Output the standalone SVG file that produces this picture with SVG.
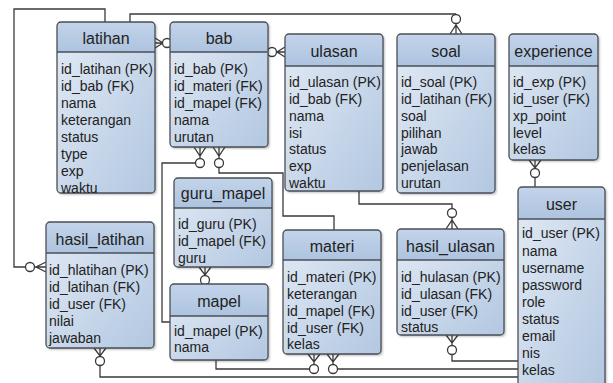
<svg xmlns="http://www.w3.org/2000/svg" width="613" height="383" viewBox="0 0 613 383">
<defs>
<linearGradient id="bodyGrad" x1="0" y1="0" x2="1" y2="1">
<stop offset="0" stop-color="#e3ebf5"/>
<stop offset="1" stop-color="#b2c7e1"/>
</linearGradient>
<linearGradient id="headGrad" x1="0" y1="0" x2="0" y2="1">
<stop offset="0" stop-color="#c3d4ea"/>
<stop offset="1" stop-color="#adc3df"/>
</linearGradient>
<filter id="sh" x="-10%" y="-10%" width="130%" height="130%">
<feDropShadow dx="1.5" dy="1.5" stdDeviation="1.2" flood-color="#000" flood-opacity="0.3"/>
</filter>
</defs>
<style>
.body{fill:url(#bodyGrad);filter:url(#sh)}
.head{fill:url(#headGrad)}
.frame{fill:none;stroke:#4a4f57;stroke-width:1.3}
.sep{stroke:#4a4f57;stroke-width:1.3}
.t{font-family:"Liberation Sans",Arial,sans-serif;font-size:16px;fill:#222;text-anchor:middle}
.r{font-family:"Liberation Sans",Arial,sans-serif;font-size:14px;fill:#222}
.c{fill:none;stroke:#3a3a3a;stroke-width:1.3}
.o{fill:#fff;stroke:#3a3a3a;stroke-width:1.3}
</style>
<rect width="613" height="383" fill="#fff"/>

<g id="connectors">
<!-- latihan - hasil_latihan -->
<path class="c" d="M105,22 V9 H14 V267 H25.5"/>
<circle class="o" cx="30" cy="267" r="4.5"/>
<path class="c" d="M34.5,267 H46 M46,262 L36,267 L46,272"/>
<!-- latihan - soal -->
<path class="c" d="M130,22 V14 H456"/>
<circle class="o" cx="456" cy="19" r="4.5"/>
<path class="c" d="M456,23.5 V34 M450,34 L456,25 L462,34"/>
<!-- latihan - bab -->
<path class="c" d="M155,43 H162.5 M155,38 L163,43 L155,48"/>
<circle class="o" cx="167" cy="43" r="4.5"/>
<!-- bab - ulasan -->
<circle class="o" cx="272" cy="52" r="4.5"/>
<path class="c" d="M276.5,52 H285 M285,47 L277,52 L285,57"/>
<!-- bab - mapel -->
<path class="c" d="M200,147 V158.5 M194,147 L200,156 L206,147"/>
<circle class="o" cx="200" cy="163" r="4.5"/>
<path class="c" d="M195.5,163 H162 V322 H170"/>
<!-- bab - materi -->
<path class="c" d="M219,147 V158.5 M213,147 L219,156 L225,147"/>
<circle class="o" cx="219" cy="163" r="4.5"/>
<path class="c" d="M219,167.5 V173 H283 V216 H334 V230"/>
<!-- ulasan - hasil_ulasan -->
<path class="c" d="M359,191 V204 H452 V208.5"/>
<circle class="o" cx="452" cy="213" r="4.5"/>
<path class="c" d="M452,217.5 V229 M446,229 L452,220 L458,229"/>
<!-- experience - user -->
<path class="c" d="M535,160 V168.5 M529,160 L535,168 L541,160"/>
<circle class="o" cx="535" cy="173" r="4.5"/>
<path class="c" d="M535,177.5 V187"/>
<!-- guru_mapel - mapel -->
<path class="c" d="M205,267 V275.5 M199,267 L205,275 L211,267"/>
<circle class="o" cx="205" cy="280" r="4.5"/>
<!-- hasil_ulasan - user -->
<path class="c" d="M452,335 V345.5 M446,335 L452,343 L458,335"/>
<circle class="o" cx="452" cy="350" r="4.5"/>
<path class="c" d="M452,354.5 V361 H518"/>
<!-- mapel - materi -->
<path class="c" d="M216,360 V369 H309.5"/>
<path class="c" d="M314,354 V364.5 M308,354 L314,362 L320,354"/>
<circle class="o" cx="314" cy="369" r="4.5"/>
<!-- materi - user -->
<path class="c" d="M333,354 V364.5 M327,354 L333,362 L339,354"/>
<circle class="o" cx="333" cy="369" r="4.5"/>
<path class="c" d="M337.5,369 H518"/>
<!-- hasil_latihan - user -->
<path class="c" d="M100,348 V356.5 M94,348 L100,356 L106,348"/>
<circle class="o" cx="100" cy="361" r="4.5"/>
<path class="c" d="M100,365.5 V377 H518"/>
</g>

<g id="latihan">
<rect class="body" x="57" y="22" width="98" height="171" rx="4"/>
<path class="head" d="M57,52 V26 Q57,22 61,22 H151 Q155,22 155,26 V52 Z"/>
<line class="sep" x1="57" y1="52" x2="155" y2="52"/>
<rect class="frame" x="57" y="22" width="98" height="171" rx="4"/>
<text class="t" x="106" y="44">latihan</text>
<text class="r" x="61" y="74">id_latihan (PK)</text>
<text class="r" x="61" y="91">id_bab (FK)</text>
<text class="r" x="61" y="108">nama</text>
<text class="r" x="61" y="125">keterangan</text>
<text class="r" x="61" y="142">status</text>
<text class="r" x="61" y="159">type</text>
<text class="r" x="61" y="176">exp</text>
<text class="r" x="61" y="193">waktu</text>
</g>

<g id="bab">
<rect class="body" x="170" y="22" width="98" height="125" rx="4"/>
<path class="head" d="M170,52 V26 Q170,22 174,22 H264 Q268,22 268,26 V52 Z"/>
<line class="sep" x1="170" y1="52" x2="268" y2="52"/>
<rect class="frame" x="170" y="22" width="98" height="125" rx="4"/>
<text class="t" x="219" y="44">bab</text>
<text class="r" x="174" y="74">id_bab (PK)</text>
<text class="r" x="174" y="91">id_materi (FK)</text>
<text class="r" x="174" y="108">id_mapel (FK)</text>
<text class="r" x="174" y="125">nama</text>
<text class="r" x="174" y="142">urutan</text>
</g>

<g id="ulasan">
<rect class="body" x="285" y="34" width="98" height="157" rx="4"/>
<path class="head" d="M285,66 V38 Q285,34 289,34 H379 Q383,34 383,38 V66 Z"/>
<line class="sep" x1="285" y1="66" x2="383" y2="66"/>
<rect class="frame" x="285" y="34" width="98" height="157" rx="4"/>
<text class="t" x="334" y="57">ulasan</text>
<text class="r" x="289" y="87">id_ulasan (PK)</text>
<text class="r" x="289" y="104">id_bab (FK)</text>
<text class="r" x="289" y="121">nama</text>
<text class="r" x="289" y="138">isi</text>
<text class="r" x="289" y="154">status</text>
<text class="r" x="289" y="171">exp</text>
<text class="r" x="289" y="188">waktu</text>
</g>

<g id="soal">
<rect class="body" x="397" y="34" width="98" height="159" rx="4"/>
<path class="head" d="M397,66 V38 Q397,34 401,34 H491 Q495,34 495,38 V66 Z"/>
<line class="sep" x1="397" y1="66" x2="495" y2="66"/>
<rect class="frame" x="397" y="34" width="98" height="159" rx="4"/>
<text class="t" x="446" y="57">soal</text>
<text class="r" x="401" y="87">id_soal (PK)</text>
<text class="r" x="401" y="104">id_latihan (FK)</text>
<text class="r" x="401" y="121">soal</text>
<text class="r" x="401" y="138">pilihan</text>
<text class="r" x="401" y="154">jawab</text>
<text class="r" x="401" y="171">penjelasan</text>
<text class="r" x="401" y="188">urutan</text>
</g>

<g id="experience">
<rect class="body" x="509" y="34" width="89" height="126" rx="4"/>
<path class="head" d="M509,66 V38 Q509,34 513,34 H594 Q598,34 598,38 V66 Z"/>
<line class="sep" x1="509" y1="66" x2="598" y2="66"/>
<rect class="frame" x="509" y="34" width="89" height="126" rx="4"/>
<text class="t" x="553.5" y="57">experience</text>
<text class="r" x="513" y="87">id_exp (PK)</text>
<text class="r" x="513" y="104">id_user (FK)</text>
<text class="r" x="513" y="121">xp_point</text>
<text class="r" x="513" y="138">level</text>
<text class="r" x="513" y="154">kelas</text>
</g>

<g id="user">
<rect class="body" x="518" y="187" width="87" height="200" rx="4"/>
<path class="head" d="M518,219 V191 Q518,187 522,187 H601 Q605,187 605,191 V219 Z"/>
<line class="sep" x1="518" y1="219" x2="605" y2="219"/>
<rect class="frame" x="518" y="187" width="87" height="200" rx="4"/>
<text class="t" x="561.5" y="210">user</text>
<text class="r" x="522" y="238">id_user (PK)</text>
<text class="r" x="522" y="256">nama</text>
<text class="r" x="522" y="273">username</text>
<text class="r" x="522" y="290">password</text>
<text class="r" x="522" y="307">role</text>
<text class="r" x="522" y="324">status</text>
<text class="r" x="522" y="341">email</text>
<text class="r" x="522" y="358">nis</text>
<text class="r" x="522" y="375">kelas</text>
</g>

<g id="guru_mapel">
<rect class="body" x="174" y="178" width="98" height="89" rx="4"/>
<path class="head" d="M174,208 V182 Q174,178 178,178 H268 Q272,178 272,182 V208 Z"/>
<line class="sep" x1="174" y1="208" x2="272" y2="208"/>
<rect class="frame" x="174" y="178" width="98" height="89" rx="4"/>
<text class="t" x="223" y="199">guru_mapel</text>
<text class="r" x="178" y="229">id_guru (PK)</text>
<text class="r" x="178" y="246">id_mapel (FK)</text>
<text class="r" x="178" y="263">guru</text>
</g>

<g id="mapel">
<rect class="body" x="170" y="284" width="98" height="76" rx="4"/>
<path class="head" d="M170,316 V288 Q170,284 174,284 H264 Q268,284 268,288 V316 Z"/>
<line class="sep" x1="170" y1="316" x2="268" y2="316"/>
<rect class="frame" x="170" y="284" width="98" height="76" rx="4"/>
<text class="t" x="219" y="307">mapel</text>
<text class="r" x="174" y="336">id_mapel (PK)</text>
<text class="r" x="174" y="352">nama</text>
</g>

<g id="materi">
<rect class="body" x="283" y="230" width="98" height="124" rx="4"/>
<path class="head" d="M283,260 V234 Q283,230 287,230 H377 Q381,230 381,234 V260 Z"/>
<line class="sep" x1="283" y1="260" x2="381" y2="260"/>
<rect class="frame" x="283" y="230" width="98" height="124" rx="4"/>
<text class="t" x="332" y="252">materi</text>
<text class="r" x="287" y="282">id_materi (PK)</text>
<text class="r" x="287" y="299">keterangan</text>
<text class="r" x="287" y="316">id_mapel (FK)</text>
<text class="r" x="287" y="333">id_user (FK)</text>
<text class="r" x="287" y="349">kelas</text>
</g>

<g id="hasil_ulasan">
<rect class="body" x="397" y="229" width="107" height="106" rx="4"/>
<path class="head" d="M397,260 V233 Q397,229 401,229 H500 Q504,229 504,233 V260 Z"/>
<line class="sep" x1="397" y1="260" x2="504" y2="260"/>
<rect class="frame" x="397" y="229" width="107" height="106" rx="4"/>
<text class="t" x="450.5" y="252">hasil_ulasan</text>
<text class="r" x="401" y="282">id_hulasan (PK)</text>
<text class="r" x="401" y="299">id_ulasan (FK)</text>
<text class="r" x="401" y="316">id_user (FK)</text>
<text class="r" x="401" y="332">status</text>
</g>

<g id="hasil_latihan">
<rect class="body" x="46" y="222" width="108" height="126" rx="4"/>
<path class="head" d="M46,253 V226 Q46,222 50,222 H150 Q154,222 154,226 V253 Z"/>
<line class="sep" x1="46" y1="253" x2="154" y2="253"/>
<rect class="frame" x="46" y="222" width="108" height="126" rx="4"/>
<text class="t" x="100" y="245">hasil_latihan</text>
<text class="r" x="49" y="275">id_hlatihan (PK)</text>
<text class="r" x="49" y="292">id_latihan (FK)</text>
<text class="r" x="49" y="309">id_user (FK)</text>
<text class="r" x="49" y="326">nilai</text>
<text class="r" x="49" y="343">jawaban</text>
</g>
</svg>
